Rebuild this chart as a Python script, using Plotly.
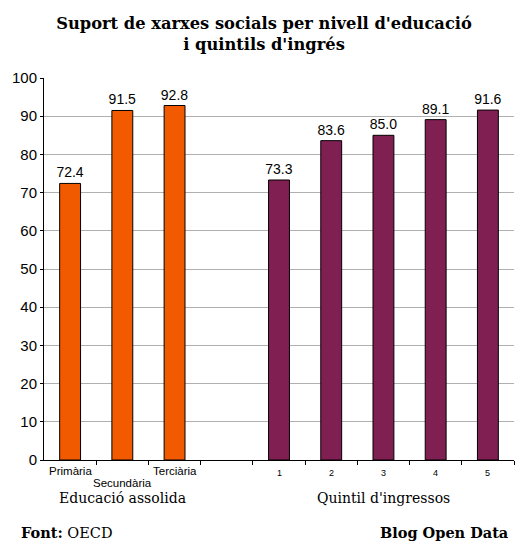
import plotly.graph_objects as go

edu_labels = ["Primària", "Secundària", "Terciària"]
edu_values = [72.4, 91.5, 92.8]
quint_labels = ["1", "2", "3", "4", "5"]
quint_values = [73.3, 83.6, 85.0, 89.1, 91.6]

edu_x = [0.5, 1.5, 2.5]
quint_x = [4.5, 5.5, 6.5, 7.5, 8.5]

L, R, T, B = 38, 14, 78, 91
W, H = 528, 551
PW, PH = W - L - R, H - T - B

fig = go.Figure()
fig.add_trace(go.Bar(x=edu_x, y=edu_values, width=0.4,
                     marker=dict(color="#F25A00", line=dict(color="black", width=1)),
                     text=[f"{v:.1f}" for v in edu_values], textposition="outside",
                     constraintext="none",
                     textfont=dict(family="Liberation Sans", size=14, color="black"),
                     cliponaxis=False))
fig.add_trace(go.Bar(x=quint_x, y=quint_values, width=0.4,
                     marker=dict(color="#801F52", line=dict(color="black", width=1)),
                     text=[f"{v:.1f}" for v in quint_values], textposition="outside",
                     constraintext="none",
                     textfont=dict(family="Liberation Sans", size=14, color="black"),
                     cliponaxis=False))

annotations = []
for i, (x, lab) in enumerate(zip(edu_x, edu_labels)):
    annotations.append(dict(x=x, y=0, xref="x", yref="y", text=lab, showarrow=False,
                            yanchor="top", yshift=-3 if i != 1 else -15,
                            font=dict(family="Liberation Sans", size=11.5, color="black")))
for x, lab in zip(quint_x, quint_labels):
    annotations.append(dict(x=x, y=0, xref="x", yref="y", text=lab, showarrow=False,
                            yanchor="top", yshift=-6,
                            font=dict(family="Liberation Sans", size=9, color="black")))
annotations.append(dict(x=1.5, y=0, xref="x", yref="y", text="Educació assolida", showarrow=False,
                        yanchor="top", yshift=-28,
                        font=dict(family="DejaVu Serif", size=14, color="black")))
annotations.append(dict(x=6.5, y=0, xref="x", yref="y", text="Quintil d'ingressos", showarrow=False,
                        yanchor="top", yshift=-28,
                        font=dict(family="DejaVu Serif", size=14, color="black")))
annotations.append(dict(x=(13 - L) / PW, y=(H - B - 532) / PH, xref="paper", yref="paper",
                        text="<b>Font:</b> OECD", showarrow=False, xanchor="left", yanchor="middle",
                        font=dict(family="DejaVu Serif", size=14.5, color="black")))
annotations.append(dict(x=(511 - L) / PW, y=(H - B - 532) / PH, xref="paper", yref="paper",
                        text="<b>Blog Open Data</b>", showarrow=False, xanchor="right", yanchor="middle",
                        font=dict(family="DejaVu Serif", size=14.5, color="black")))

fig.update_layout(
    width=W, height=H,
    margin=dict(l=L, r=R, t=T, b=B),
    paper_bgcolor="white", plot_bgcolor="white",
    showlegend=False,
    title=dict(text="<b>Suport de xarxes socials per nivell d'educació<br>i quintils d'ingrés</b>",
               x=0.5, xanchor="center", y=1 - 29/551, yanchor="middle",
               font=dict(family="DejaVu Serif", size=16.3, color="black")),
    xaxis=dict(range=[0, 9], tickvals=[1, 2, 3, 4, 5, 6, 7, 8, 9], showticklabels=False,
               ticks="outside", ticklen=4, tickcolor="black", showgrid=False,
               showline=True, linecolor="black", linewidth=1, zeroline=False, fixedrange=True),
    yaxis=dict(range=[0, 100], dtick=10, ticks="outside", ticklen=3, tickcolor="black",
               showgrid=True, gridcolor="#b0b0b0", gridwidth=1,
               showline=True, linecolor="black", linewidth=1, zeroline=False,
               tickfont=dict(family="Liberation Sans", size=15, color="black")),
    annotations=annotations,
)

fig.write_html("out.html")
